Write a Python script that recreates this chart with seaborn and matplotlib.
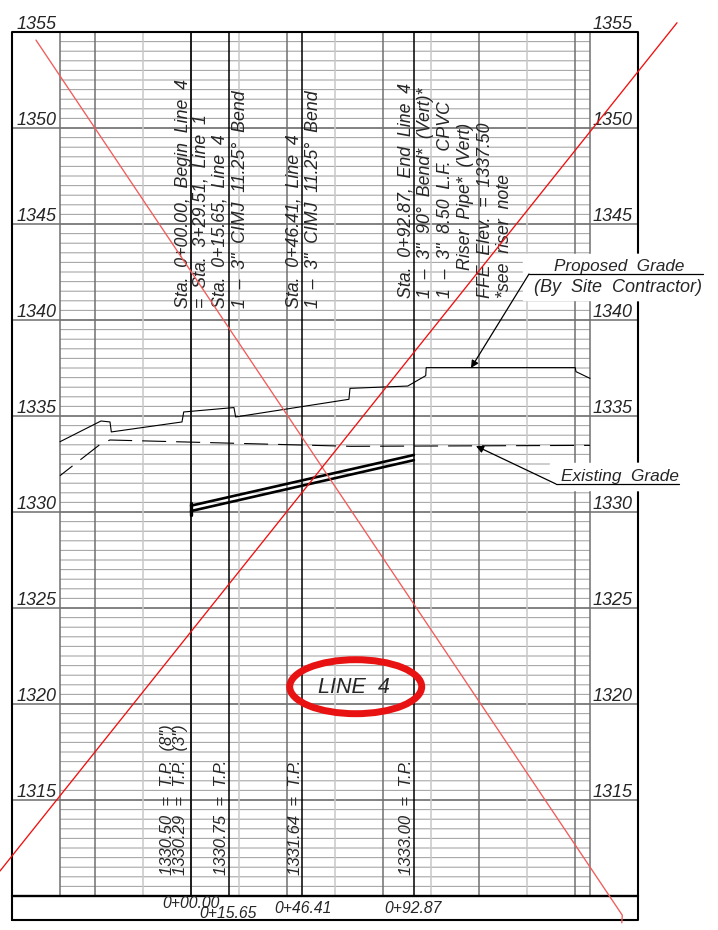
import numpy as np
import pandas as pd
import matplotlib.pyplot as plt
from matplotlib.patches import Ellipse, Rectangle
import seaborn as sns

# Profile values, station in feet and elevation in feet
proposed_sta = [-54.6, -37.5, -33.75, -33.2, -3.75, -3.04, 17.9, 18.6, 65.8, 66.25, 90.3, 97.8, 98.0, 160.1, 160.4, 166.25]
proposed_elev = [1333.66, 1334.74, 1334.69, 1334.17, 1334.69, 1335.21, 1335.44, 1334.95, 1335.87, 1336.44, 1336.56, 1337.1, 1337.52, 1337.52, 1337.31, 1336.96]
existing_sta = [-54.6, -37.5, -33.75, 66.7, 166.25]
existing_elev = [1331.89, 1333.56, 1333.75, 1333.42, 1333.47]
pipe_sta = [0.0, 92.87]
pipe_top = [1330.33, 1332.97]
pipe_bottom = [1330.05, 1332.70]
fitting_sta = [0.0, 15.65, 46.41, 92.87]
grid_dark_sta = [-54.6, -40, 0, 40, 80, 120, 160, 166.25]
grid_light_sta = [-20, 20, 60, 100, 140]
major_elev = [1350, 1345, 1340, 1335, 1330, 1325, 1320, 1315]
tick_labels = [1355, 1350, 1345, 1340, 1335, 1330, 1325, 1320, 1315]
red_a_sta = [-64.6, 179.7, 179.5]
red_a_elev = [1354.58, 1309.0, 1308.6]
red_b_sta = [-79.6, 202.5]
red_b_elev = [1311.3, 1355.48]

top_notes = [
    ("Sta.  0+00.00,  Begin  Line  4", 183, 308),
    ("=  Sta.  3+29.51,  Line  1", 201, 308),
    ("Sta.  0+15.65,  Line  4", 220, 308),
    ("1  \u2013  3\"  CIMJ  11.25\u00b0  Bend", 240, 308),
    ("Sta.  0+46.41,  Line  4", 294, 308),
    ("1  \u2013  3\"  CIMJ  11.25\u00b0  Bend", 314, 308),
    ("Sta.  0+92.87,  End  Line  4", 406, 298),
    ("1  \u2013  3\"  90\u00b0  Bend*  (Vert)*", 425, 298),
    ("1  \u2013  3\"  8.50  L.F.  CPVC", 445, 298),
    ("Riser  Pipe*  (Vert)", 465, 270),
    ("FFE  Elev.  =  1337.50", 485, 298),
    ("*see  riser  note", 504, 298),
]
low_notes = [
    ("1330.50  =  T.P.  (8\")", 167),
    ("1330.29  =  T.P.  (3\")", 180),
    ("1330.75  =  T.P.", 221),
    ("1331.64  =  T.P.", 295),
    ("1333.00  =  T.P.", 406),
]
station_labels = [("0+00.00", 191, 903), ("0+15.65", 228, 913), ("0+46.41", 303, 908), ("0+92.87", 413, 908)]


# pixel helpers, only for placing notes on the sheet
def sx(px):
    return (px - 191) / 2.4


def ey(py):
    return 1355 - (py - 32) / 19.2


sns.set_style("white")
plt.rcParams['font.family'] = ['Liberation Sans', 'DejaVu Sans']
plt.rcParams['font.style'] = 'italic'

fig = plt.figure(figsize=(7.18, 9.3), dpi=100)
ax = fig.add_axes([0, 0, 1, 1])
ax.set_xlim(sx(0), sx(718))
ax.set_ylim(ey(930), ey(0))
ax.axis('off')

# half foot grid
minor_elev = np.arange(1310.5, 1355, 0.5)
minor = ax.hlines(minor_elev, grid_dark_sta[0], grid_dark_sta[-1], color='#a2a2a2', lw=0.75, zorder=1)
minor.set_snap(False)
major = ax.hlines(major_elev, sx(12), sx(638), color='#6e6e6e', lw=1.1, zorder=2)
ax.vlines(grid_light_sta, 1310, 1355, color='#c8c8c8', lw=1.1, zorder=2)
ax.vlines(grid_dark_sta, 1310, 1355, color='#707070', lw=1.1, zorder=2)
ax.vlines(fitting_sta, 1310, 1355, color='black', lw=1.1, zorder=3)

# white boxes behind the callouts
ax.add_patch(Rectangle((sx(523), ey(300)), sx(713) - sx(523), 46 / 19.2, color='white', zorder=4))
ax.add_patch(Rectangle((sx(550), ey(490)), sx(682) - sx(550), 27 / 19.2, color='white', zorder=4))

# frame
ax.plot([sx(12), sx(12), sx(638), sx(638), sx(12)], [ey(920), 1355, 1355, ey(920), ey(920)], color='black', lw=1.5, zorder=3.5)
ax.plot([sx(12), sx(638)], [1310, 1310], color='black', lw=1.7, zorder=3.5)
ax.add_patch(Rectangle((sx(636), ey(300)), 5 / 2.4, 46 / 19.2, color='white', zorder=4))
ax.add_patch(Rectangle((sx(636), ey(490)), 5 / 2.4, 27 / 19.2, color='white', zorder=4))

# grade lines and pipe
sns.lineplot(x=proposed_sta, y=proposed_elev, sort=False, estimator=None, color='black', linewidth=0.8, ax=ax, zorder=5)
sns.lineplot(x=existing_sta, y=existing_elev, sort=False, estimator=None, color='black', linewidth=0.8,
             linestyle=(7.25, (21.6, 9)), ax=ax, zorder=5)
sns.lineplot(x=pipe_sta, y=pipe_top, sort=False, estimator=None, color='black', linewidth=1.9, ax=ax, zorder=5)
sns.lineplot(x=pipe_sta, y=pipe_bottom, sort=False, estimator=None, color='black', linewidth=1.9, ax=ax, zorder=5)
ax.plot([0, 0], [ey(503), ey(515)], color='black', lw=2.4, zorder=5)

# crossing out lines
sns.lineplot(x=red_a_sta, y=red_a_elev, sort=False, estimator=None, color='#f45a5a', linewidth=0.95, ax=ax, zorder=7)
sns.lineplot(x=red_b_sta, y=red_b_elev, sort=False, estimator=None, color='#f01010', linewidth=0.95, ax=ax, zorder=7)

# elevation labels both sides
for val in tick_labels:
    py = 32 + (1355 - val) * 19.2
    ax.text(sx(37), ey(py - 8), str(val), fontsize=13, ha='center', va='center', zorder=6)
    ax.text(sx(613), ey(py - 8), str(val), fontsize=13, ha='center', va='center', zorder=6)

for label, px, py in top_notes:
    ax.text(sx(px), ey(py), label, rotation=90, fontsize=12.8, ha='center', va='bottom', zorder=6)
for label, px in low_notes:
    ax.text(sx(px), ey(875), label, rotation=90, fontsize=12, ha='center', va='bottom', zorder=6)
for label, px, py in station_labels:
    ax.text(sx(px), ey(py), label, fontsize=11.3, ha='center', va='center', zorder=6)

# callouts
ax.plot([sx(529), sx(703)], [ey(274), ey(274)], color='black', lw=0.9, zorder=6)
ax.annotate("", xy=(sx(471), ey(368)), xytext=(sx(529), ey(274)), zorder=6,
            arrowprops=dict(arrowstyle='-|>', color='black', lw=0.9, shrinkA=0, shrinkB=0, mutation_scale=11))
ax.text(sx(619), ey(266), "Proposed  Grade", fontsize=12.3, ha='center', va='center', zorder=6)
ax.text(sx(618), ey(287), "(By  Site  Contractor)", fontsize=13, ha='center', va='center', zorder=6)
ax.plot([sx(556), sx(679)], [ey(484), ey(484)], color='black', lw=0.9, zorder=6)
ax.annotate("", xy=(sx(476), ey(446)), xytext=(sx(556), ey(484)), zorder=6,
            arrowprops=dict(arrowstyle='-|>', color='black', lw=0.9, shrinkA=0, shrinkB=0, mutation_scale=11))
ax.text(sx(620), ey(476), "Existing  Grade", fontsize=12.4, ha='center', va='center', zorder=6)

# plan tag
ax.add_patch(Ellipse((sx(355.7), ey(686.7)), 132 / 2.4, 54 / 19.2, fill=False, edgecolor='#e81212', lw=5, zorder=7))
ax.text(sx(354), ey(687), "LINE  4", fontsize=15.5, ha='center', va='center', zorder=6)

fig.savefig("out.png", dpi=100)
